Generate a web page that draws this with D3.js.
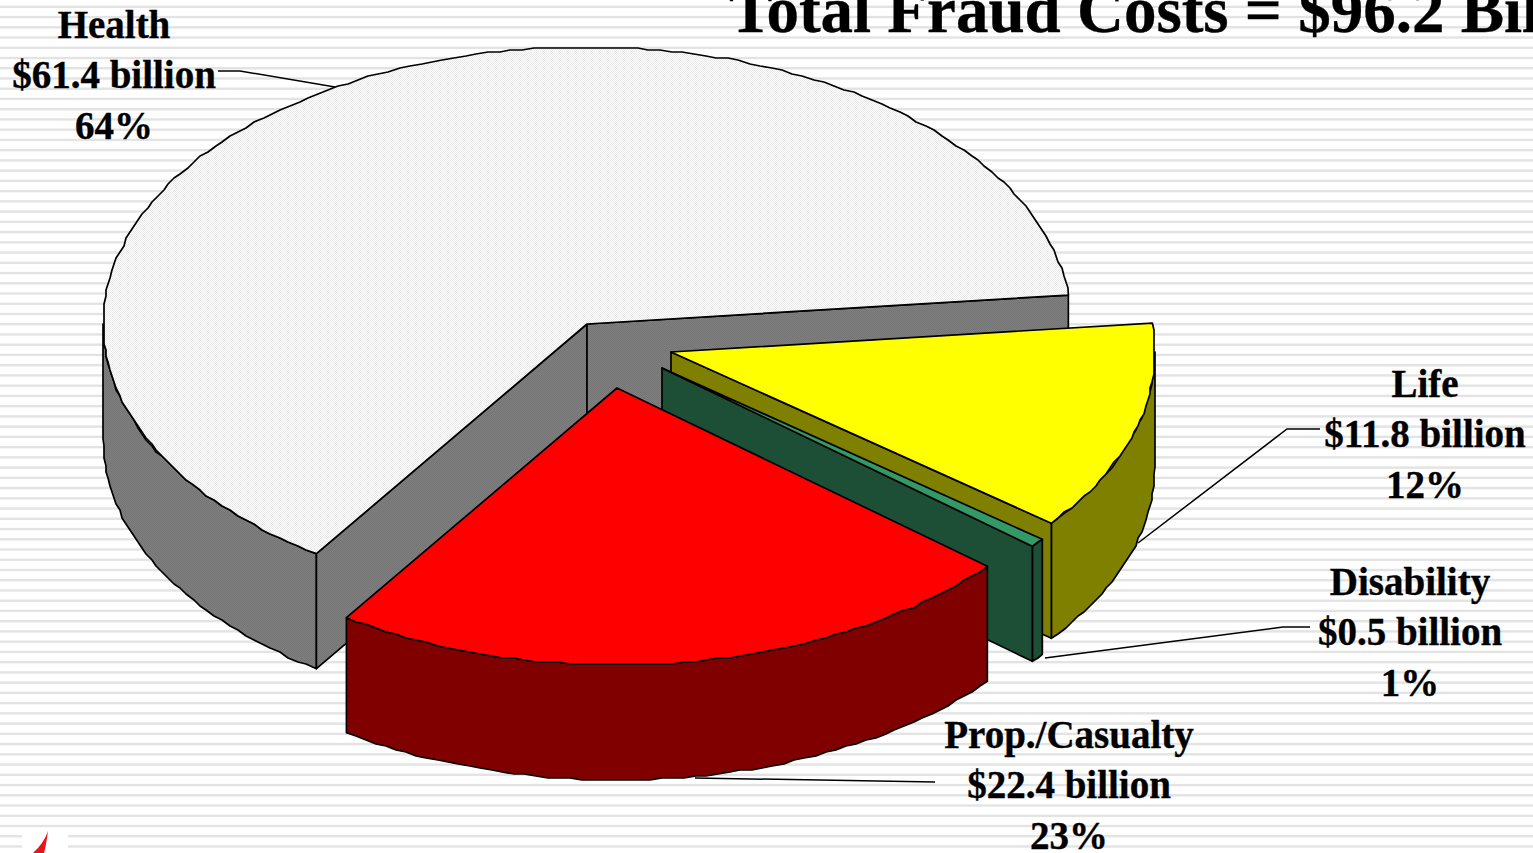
<!DOCTYPE html>
<html>
<head>
<meta charset="utf-8">
<script src="https://cdn.jsdelivr.net/npm/d3@7/dist/d3.min.js"></script>
<style>
  html, body { margin: 0; padding: 0; background: #fff; overflow: hidden; }
  svg { display: block; }
  text { font-family: "Liberation Serif", serif; font-weight: bold; fill: #000; stroke: #000; stroke-width: 0.35px; }
</style>
</head>
<body>
<svg id="chart" width="1533" height="853"></svg>
<script>
// Insurance fraud costs by line, in billions of dollars
const categories = ["Life", "Disability", "Prop./Casualty", "Health"];
const values = [11.8, 0.5, 22.4, 61.4];
const amountLabels = ["$11.8 billion", "$0.5 billion", "$22.4 billion", "$61.4 billion"];
const percentLabels = ["12%", "1%", "23%", "64%"];
const topColors = ["#ffff00", "#339966", "#ff0000", "url(#dotLight)"];
const wallColors = ["#808000", "#1c4f36", "#800000", "url(#dotGray)"];
const titleText = "Total Fraud Costs = $96.2 Billion";

const W = 1533, H = 853;
const svg = d3.select("#chart");

// Stage layout of the tilted pie
const cx = 587, cy = 322, rx = 484, ry = 277, depth = 115;
const explode = [[84, 30], [75, 46], [30, 66], [0, 2]];
const labelBoxes = [[1425, 397], [1410, 595], [1069, 748], [114, 38]];
const labelStep = 50.4;
const leaders = [
  [[1320, 429], [1287, 429], [1138, 543]],
  [[1310, 627], [1283, 627], [1045, 658]],
  [[935, 782], [695, 778]],
  [[218, 71], [240, 71], [335, 87]]
];

const defs = svg.append("defs");
const dot = (id, a, b) => {
  const p = defs.append("pattern").attr("id", id).attr("width", 2).attr("height", 2)
    .attr("patternUnits", "userSpaceOnUse");
  p.append("rect").attr("width", 2).attr("height", 2).attr("fill", a);
  p.append("rect").attr("width", 1).attr("height", 1).attr("fill", b);
  p.append("rect").attr("x", 1).attr("y", 1).attr("width", 1).attr("height", 1).attr("fill", b);
};
dot("dotLight", "#ffffff", "#e8e8e8");
dot("dotGray", "#808080", "#747474");

// Ruled slide background
svg.append("rect").attr("width", W).attr("height", H).attr("fill", "#fff");
svg.append("g").selectAll("rect").data(d3.range(0, 84)).join("rect")
  .attr("x", 0).attr("width", W).attr("y", k => 5.6 + k * 10.24).attr("height", 2.4)
  .attr("fill", "#e3e3e3");

// Corner logo
svg.append("rect").attr("x", 22).attr("y", 829).attr("width", 46).attr("height", 24).attr("fill", "#fff");
svg.append("path").attr("d", "M48,831 Q46,846 44,853 L33,853 Q44,843 48,831 Z").attr("fill", "#e8141c");

// Pie angles run clockwise from the top of the ellipse
const startAngle = 84 * Math.PI / 180;
const pie = d3.pie().sort(null).startAngle(startAngle).endAngle(startAngle + 2 * Math.PI);
const arcs = pie(values);

const rimPoint = (a, o, drop = 0) => [
  cx + o[0] + rx * Math.sin(a),
  cy + o[1] + drop - ry * Math.cos(a)
];
// Rim sampling snapped to a small grid keeps the slightly stepped outline of the slide
const snap = v => Math.round(v / 2) * 2;
const rimPath = (a0, a1, o, drop = 0) => {
  const steps = Math.max(2, Math.ceil(Math.abs(a1 - a0) / 0.024));
  return d3.range(steps + 1).map(i => {
    const p = rimPoint(a0 + (a1 - a0) * i / steps, o, drop);
    return i === 0 || i === steps ? p : [snap(p[0]), snap(p[1])];
  });
};
const line = d3.line();
const close = pts => line(pts) + "Z";
const quarter = Math.PI / 2;

const pieGroup = svg.append("g")
  .attr("stroke", "#000").attr("stroke-width", 1.7).attr("stroke-linejoin", "round");

// Paint one slice: hidden faces first, then visible walls, then the top
function drawSlice(d, i, showStart, showEnd) {
  const o = explode[i];
  const g = pieGroup.append("g");
  const apex = [cx + o[0], cy + o[1]];
  const face = a => {
    const p = rimPoint(a, o);
    g.append("path").attr("fill", wallColors[i])
      .attr("d", close([apex, p, [p[0], p[1] + depth], [apex[0], apex[1] + depth]]));
  };
  // Only the rim inside the lower half of the ellipse shows its wall
  const lo = Math.max(d.startAngle, quarter);
  const hi = Math.min(d.endAngle, 3 * quarter);
  if (hi > lo) {
    const upper = rimPath(lo, hi, o);
    const lower = rimPath(hi, lo, o, depth);
    g.append("path").attr("fill", wallColors[i]).attr("d", close(upper.concat(lower)));
  }
  if (showStart) face(d.startAngle);
  if (showEnd) face(d.endAngle);
  g.append("path").attr("fill", topColors[i])
    .attr("d", close([apex].concat(rimPath(d.startAngle, d.endAngle, o))));
}

drawSlice(arcs[3], 3, true, true);
drawSlice(arcs[0], 0, false, true);
drawSlice(arcs[1], 1, false, true);
drawSlice(arcs[2], 2, false, false);

// Leader lines from labels to slices
svg.append("g").selectAll("path").data(leaders).join("path")
  .attr("d", d => line(d)).attr("fill", "none").attr("stroke", "#000").attr("stroke-width", 1.5);

// Three-line slice labels
const labels = svg.append("g").attr("text-anchor", "middle").attr("font-size", 39);
categories.forEach((c, i) => {
  const [x, y] = labelBoxes[i];
  [c, amountLabels[i], percentLabels[i]].forEach((t, j) => {
    labels.append("text").attr("x", x).attr("y", y + j * labelStep).text(t);
  });
});

// Title runs off the slide at the top right
svg.append("text").attr("x", 729).attr("y", 31.5).attr("font-size", 65).text(titleText);
</script>
</body>
</html>
